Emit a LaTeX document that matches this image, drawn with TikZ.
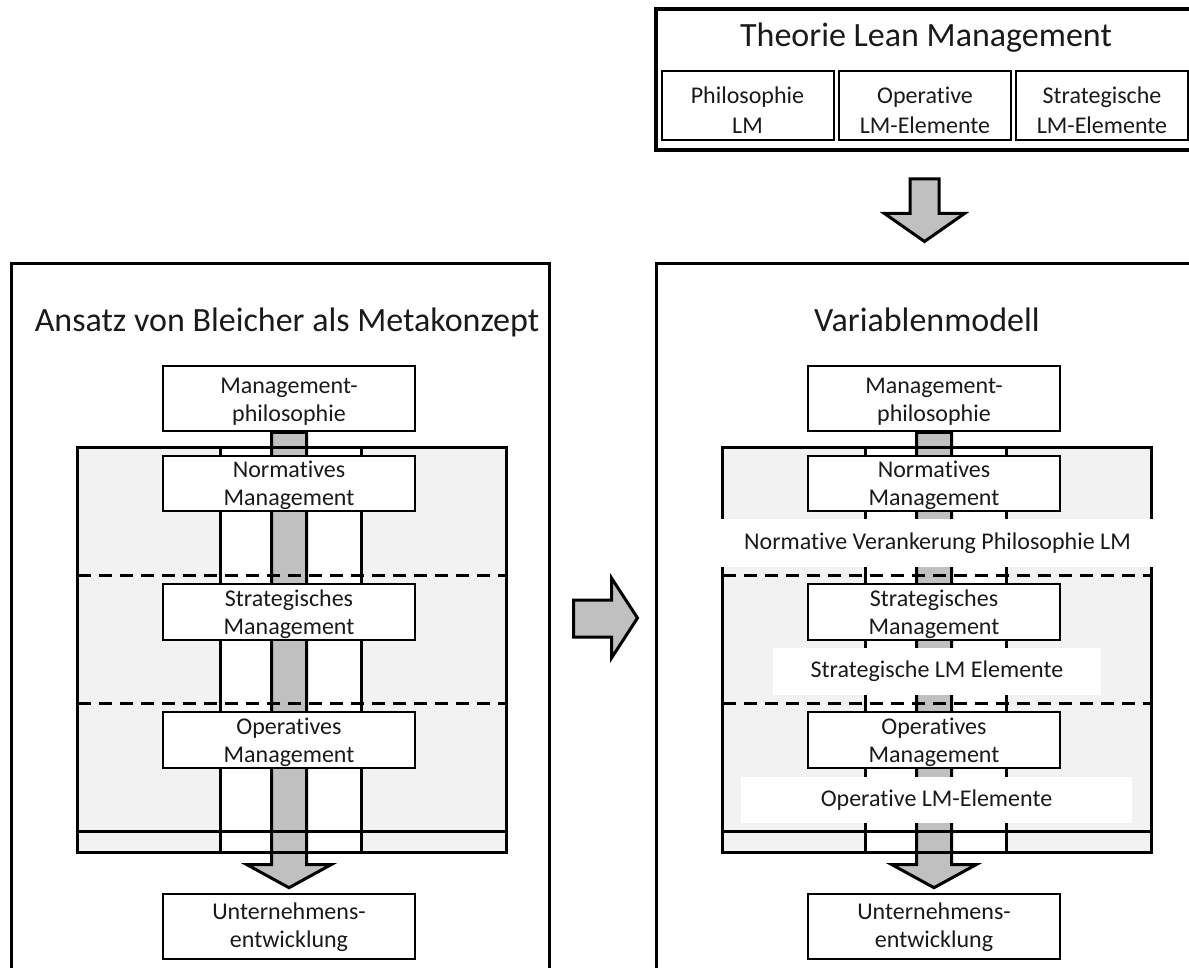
\documentclass[tikz,border=0pt]{standalone}
\usepackage{fontspec}
\setmainfont{Carlito}[Ligatures=NoCommon]
\usetikzlibrary{calc}
\definecolor{panelgray}{HTML}{F2F2F2}
\definecolor{shaftgray}{HTML}{C0C0C0}
\definecolor{ink}{HTML}{1A1A1A}
\pgfdeclarelayer{back}
\pgfdeclarelayer{mid}
\pgfsetlayers{back,mid,main}
% invisible strut that fixes the height of a first text line
\newcommand{\firstline}[1]{\rule{0pt}{#1}}

\begin{document}
\begin{tikzpicture}[x=1pt,y=-1pt,
  every node/.style={text=ink},
  box/.style={draw=black, line width=2.6pt, fill=white, minimum width=252,
    align=center, inner sep=0pt,
    font=\fontsize{24}{28}\selectfont},
  smallbox/.style={draw=black, line width=2pt, fill=white, minimum width=172,
    minimum height=69, align=center, inner sep=0pt,
    font=\fontsize{24}{30}\selectfont},
  panel/.style={draw=black, line width=3pt, minimum width=538,
    minimum height=766, inner sep=0pt},
  heading/.style={font=\fontsize{34}{40}\selectfont, anchor=base, inner sep=0pt},
  band/.style={fill=white, inner sep=0pt, font=\fontsize{24}{28}\selectfont},
  fatarrow/.style={draw=black, line width=3pt, fill=shaftgray, line join=miter},
  rule/.style={draw=black, line width=3pt},
  sep/.style={draw=black, line width=3pt, dash pattern=on 13pt off 8pt}
]
\useasboundingbox (0,0) rectangle (1189,968);

% ---------- source theory ----------
\node[draw=black, line width=4pt, minimum width=537, minimum height=141,
  inner sep=0pt] (tb) at (924.5,79.5) {};
\node[heading] (tbt) at (926,47) {Theorie Lean Management};
\node[smallbox] (phil) at (747.5,105.5) {\firstline{27pt}Philosophie\\LM};
\node[smallbox] (opel) at (925,105.5) {\firstline{27pt}Operative\\LM-Elemente};
\node[smallbox] (strl) at (1102,105.5) {\firstline{27pt}Strategische\\LM-Elemente};

% ---------- the two management stacks ----------
\foreach \dx/\sfx in {0/L,645/R}{
  \begin{scope}[xshift=\dx]
    \node[panel] (panel\sfx) at (280,647) {};
    \node[box, minimum height=65] (mp\sfx) at (289,398.5)
      {\firstline{21pt}Management-\\philosophie};
    \node[box, minimum height=55] (norm\sfx) at (289,483.5)
      {\firstline{21pt}Normatives\\Management};
    \node[box, minimum height=56] (strat\sfx) at (289,612)
      {\firstline{21pt}Strategisches\\Management};
    \node[box, minimum height=56] (oper\sfx) at (289,740)
      {\firstline{21pt}Operatives\\Management};
    \node[box, minimum height=65] (ue\sfx) at (289,926.5)
      {\firstline{19pt}Unternehmens-\\entwicklung};
    \begin{pgfonlayer}{back}
      \fill[panelgray] (77.7,447) rectangle (506,852);
      \fill[white] (220,447) rectangle (361,852);
    \end{pgfonlayer}
  \end{scope}
}

% flow arrows through each stack
\begin{pgfonlayer}{mid}
  \foreach \sfx in {L,R}{
    \draw[fatarrow] let \p1=(mp\sfx.south), \p2=(ue\sfx.north) in
      (\x1-17.5pt,\y1) -- (\x1-17.5pt,\y2+28pt) -- (\x1-42pt,\y2+28pt)
      -- (\x1,\y2+5pt) -- (\x1+42pt,\y2+28pt) -- (\x1+17.5pt,\y2+28pt)
      -- (\x1+17.5pt,\y1) -- cycle;
  }
  \foreach \dx in {0,645}{
    \begin{scope}[xshift=\dx]
      \draw[rule] (220,447) -- (220,852) (361,447) -- (361,852)
        (77.7,831) -- (506,831);
      \draw[sep] (77.7,575) -- (506,575) (77.7,703) -- (506,703);
      \draw[rule] (77.7,447) rectangle (506,852);
    \end{scope}
  }
\end{pgfonlayer}

\node[heading] (titleL) at (287,332) {Ansatz von Bleicher als Metakonzept};
\node[heading] (titleR) at (927,332) {Variablenmodell};

% Lean Management elements anchored in the model
\node[band, minimum width=433, minimum height=48] (bandN) at (937.5,543)
  {Normative Verankerung Philosophie LM};
\node[band, minimum width=328, minimum height=47] (bandS) at (937,671.5)
  {Strategische LM Elemente};
\node[band, minimum width=391, minimum height=46] (bandO) at (936.5,800)
  {Operative LM-Elemente};

% theory feeds the model
\draw[fatarrow] let \p1=(tb.south), \p2=(panelR.north) in
  (\x1-14.5pt,\y1-27pt) -- (\x1-14.5pt,\y2+49pt) -- (\x1-40pt,\y2+49pt)
  -- (\x1,\y2+21pt) -- (\x1+40pt,\y2+49pt) -- (\x1+14.5pt,\y2+49pt)
  -- (\x1+14.5pt,\y1-27pt) -- cycle;

% metaconcept leads to the model
\draw[fatarrow] let \p1=(panelL.east), \p2=(panelR.west) in
  (\x1+23pt,-600pt) -- (\x1+61pt,-600pt) -- (\x1+61pt,-578pt)
  -- (\x2-17pt,-618pt) -- (\x1+61pt,-658pt) -- (\x1+61pt,-637pt)
  -- (\x1+23pt,-637pt) -- cycle;
\end{tikzpicture}
\end{document}
